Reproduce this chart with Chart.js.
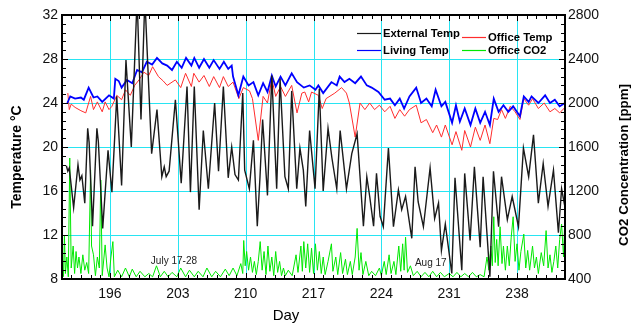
<!DOCTYPE html>
<html>
<head>
<meta charset="utf-8">
<script src="https://cdn.jsdelivr.net/npm/chart.js@4.4.1/dist/chart.umd.min.js"></script>
<style>
  html, body { margin: 0; padding: 0; background: #fff; }
  #wrap { width: 631px; height: 323px; }
</style>
</head>
<body>
<div id="wrap"><canvas id="myChart" width="631" height="323"></canvas></div>
<script>
// tick labels
var dayTicks = [196, 203, 210, 217, 224, 231, 238];
var tempTicks = [8, 12, 16, 20, 24, 28, 32];
var co2Ticks = [400, 800, 1200, 1600, 2000, 2400, 2800];

// series, [day of year, value]
var externalTemp = [[191.5,18.3],[191.65,17.8],[191.8,18.1],[192.25,14.5],[192.7,18.4],[192.9,17.0],[193.1,17.4],[193.4,14.9],[193.7,21.7],[193.85,20.4],[194.2,12.8],[194.65,21.7],[194.8,20.5],[195.25,12.6],[195.8,19.7],[196.2,15.9],[196.7,24.6],[197.2,16.5],[197.65,27.9],[198.2,20.0],[198.8,33.5],[199.2,22.5],[199.6,33.5],[200.3,19.4],[200.85,23.4],[201.35,17.3],[201.6,18.2],[201.8,17.3],[202.1,17.8],[202.75,24.3],[203.35,16.7],[203.95,25.5],[204.3,15.9],[204.7,25.5],[205.2,14.3],[205.63,21.5],[206.15,16.2],[206.8,24.0],[207.2,17.8],[207.7,25.5],[208.2,17.2],[208.56,20.0],[208.9,17.5],[209.25,17.0],[209.7,24.9],[209.9,17.9],[210.38,16.2],[210.8,20.6],[211.2,12.8],[211.48,17.3],[211.75,22.5],[212.25,15.6],[212.7,26.5],[213.2,16.2],[213.55,26.2],[214.05,17.3],[214.4,16.2],[214.75,25.1],[215.27,16.2],[215.6,19.9],[215.95,17.9],[216.2,14.6],[216.6,21.5],[217.16,16.2],[217.6,25.3],[218.0,16.0],[218.5,21.7],[218.9,19.0],[219.4,16.2],[219.75,21.5],[220.4,16.2],[220.95,19.4],[221.5,21.2],[222.15,12.8],[222.5,17.3],[222.8,15.5],[223.2,12.8],[223.5,17.6],[223.87,13.7],[224.2,12.75],[224.73,19.9],[225.25,12.75],[225.76,16.1],[226.1,14.3],[226.5,15.5],[227.14,11.7],[227.48,18.2],[227.8,15.0],[228.34,12.75],[229.03,18.1],[229.5,13.5],[229.9,14.9],[230.2,10.6],[230.6,13.0],[231.27,8.5],[231.6,17.2],[232.3,8.8],[232.6,17.6],[233.16,11.5],[233.6,18.2],[234.2,10.9],[234.5,17.3],[235.2,8.2],[235.57,17.8],[236.1,12.75],[236.4,17.3],[237.0,13.4],[237.5,15.5],[238.15,12.75],[238.66,19.9],[239.2,17.3],[239.7,21.1],[240.2,14.9],[240.7,18.5],[241.2,14.6],[241.76,17.9],[242.27,12.2],[242.6,16.2],[242.95,14.5]];

var livingTemp = [[191.6,24.0],[191.9,24.6],[192.4,24.4],[193.0,24.5],[193.3,24.3],[193.8,25.4],[194.3,24.5],[194.7,24.6],[195.2,24.1],[195.9,24.7],[196.4,24.4],[196.55,26.2],[196.9,26.0],[197.2,25.4],[197.75,26.1],[198.3,25.8],[198.8,27.0],[199.3,26.8],[199.8,27.75],[200.35,27.5],[200.85,28.1],[201.4,27.6],[201.9,27.4],[202.4,27.0],[202.9,27.75],[203.4,27.2],[203.85,28.1],[204.4,27.4],[204.7,28.1],[205.2,27.2],[205.7,28.0],[206.25,27.2],[206.7,27.9],[207.3,27.1],[207.75,27.75],[208.2,27.1],[208.56,27.4],[208.7,26.4],[209.25,24.7],[209.76,26.4],[210.3,25.6],[210.8,25.9],[211.3,24.7],[211.8,25.8],[212.25,25.0],[212.7,26.5],[213.1,25.5],[213.6,26.4],[214.1,25.6],[214.75,26.7],[215.3,25.9],[216.0,25.4],[216.6,25.6],[217.2,25.2],[217.5,25.6],[218.0,24.9],[218.85,25.9],[219.4,25.6],[219.7,26.4],[220.2,25.9],[220.7,26.2],[221.3,25.8],[221.9,26.4],[222.5,25.6],[223.0,25.4],[223.7,25.0],[224.35,24.3],[224.9,24.4],[225.4,23.8],[225.9,24.4],[226.35,23.5],[226.9,24.6],[227.6,25.4],[228.1,24.0],[228.65,24.4],[229.2,23.7],[229.6,25.2],[230.2,23.7],[230.6,24.1],[231.3,22.2],[231.7,23.8],[232.1,22.3],[232.6,23.5],[233.2,22.0],[233.7,23.5],[234.2,22.2],[234.7,23.2],[235.2,22.0],[235.6,24.4],[236.1,23.2],[236.6,23.8],[237.1,23.2],[237.6,23.7],[238.3,22.8],[238.7,24.6],[239.2,24.1],[239.5,24.6],[240.2,24.0],[240.9,24.7],[241.4,24.0],[241.9,24.3],[242.4,23.7],[242.95,24.0]];

var officeTemp = [[191.65,24.9],[191.8,23.4],[192.0,23.9],[192.4,23.6],[193.0,23.3],[193.5,23.1],[194.0,24.6],[194.3,23.4],[194.7,24.1],[195.2,23.2],[195.5,24.1],[195.9,23.4],[196.2,23.7],[196.7,24.7],[197.2,24.3],[197.6,25.2],[198.1,24.7],[198.55,25.6],[199.0,26.1],[199.5,26.8],[200.0,26.5],[200.4,27.3],[201.0,26.4],[201.5,26.0],[201.9,25.6],[202.75,26.1],[203.3,25.4],[203.8,26.7],[204.4,25.5],[204.65,26.7],[205.2,25.9],[205.7,26.5],[206.25,25.5],[206.7,26.4],[207.3,25.4],[207.7,26.4],[208.2,25.5],[208.7,25.9],[209.3,24.4],[209.76,25.4],[210.4,25.1],[210.7,24.4],[211.3,20.6],[211.8,24.6],[212.25,24.0],[212.7,26.2],[213.1,24.6],[213.6,25.5],[214.1,24.6],[214.75,25.6],[215.3,23.1],[215.8,24.9],[216.1,25.0],[216.5,24.1],[216.8,25.0],[217.5,24.7],[217.9,23.5],[218.3,24.4],[219.2,24.9],[219.9,25.4],[220.4,24.9],[220.7,24.0],[221.3,20.9],[221.8,24.0],[222.3,23.4],[222.8,24.0],[223.3,23.4],[223.8,23.8],[224.35,23.2],[224.9,23.7],[225.4,22.6],[225.9,23.4],[226.4,22.8],[226.9,23.4],[227.6,23.8],[228.1,22.2],[228.65,22.5],[229.3,21.3],[229.7,22.0],[230.2,20.9],[230.6,22.0],[231.3,20.2],[231.7,21.4],[232.3,19.7],[232.6,21.5],[233.2,20.0],[233.7,21.8],[234.2,20.6],[234.7,22.0],[235.2,20.3],[235.6,22.6],[236.0,22.5],[236.4,23.4],[236.8,22.6],[237.3,23.7],[237.8,23.2],[238.3,22.5],[238.7,24.4],[239.2,23.8],[239.6,24.4],[240.2,23.5],[240.8,24.0],[241.4,23.2],[241.9,23.5],[242.4,23.1],[242.95,23.6]];

var officeCO2 = [[191.2,420],[191.3,800],[191.4,450],[191.55,600],[191.7,420],[191.85,1500],[192.0,500],[192.2,700],[192.35,450],[192.5,650],[192.65,500],[192.8,600],[193.0,450],[193.2,620],[193.4,480],[193.6,550],[193.8,450],[194.0,1390],[194.1,700],[194.3,620],[194.5,430],[194.7,600],[194.9,500],[195.05,1300],[195.2,430],[195.5,710],[195.7,500],[195.9,420],[196.1,600],[196.3,740],[196.45,420],[196.8,480],[197.2,420],[197.6,500],[198.0,420],[198.3,490],[198.7,420],[199.1,470],[199.6,420],[200.0,450],[200.4,420],[200.8,520],[201.2,420],[201.6,470],[202.0,420],[202.4,460],[202.9,420],[203.3,500],[203.8,420],[204.2,480],[204.7,420],[205.1,470],[205.6,420],[206.0,500],[206.5,420],[206.9,470],[207.4,420],[207.9,490],[208.3,430],[208.7,500],[209.1,430],[209.5,540],[209.7,450],[209.8,750],[209.95,520],[210.1,650],[210.3,480],[210.5,600],[210.7,460],[210.9,560],[211.1,440],[211.3,560],[211.5,740],[211.7,480],[211.9,650],[212.1,440],[212.3,700],[212.5,470],[212.7,600],[212.9,430],[213.1,650],[213.3,460],[213.5,560],[213.7,430],[213.9,500],[214.1,430],[214.4,480],[214.8,430],[215.2,620],[215.4,460],[215.7,700],[215.85,470],[216.0,740],[216.2,500],[216.4,720],[216.6,460],[216.8,680],[217.0,450],[217.2,720],[217.4,480],[217.6,650],[217.8,450],[218.0,600],[218.2,440],[218.5,560],[218.85,720],[219.0,470],[219.3,600],[219.5,440],[219.8,640],[220.0,450],[220.3,580],[220.5,440],[220.8,560],[221.0,440],[221.3,600],[221.5,860],[221.7,480],[221.9,640],[222.1,440],[222.4,560],[222.7,430],[223.0,470],[223.4,430],[223.8,500],[224.0,430],[224.3,560],[224.5,440],[224.8,620],[225.0,450],[225.3,560],[225.5,440],[225.8,700],[226.0,470],[226.2,720],[226.35,480],[226.5,780],[226.7,460],[227.0,520],[227.3,430],[227.7,470],[228.1,420],[228.5,460],[228.9,420],[229.3,470],[229.7,420],[230.1,460],[230.5,420],[231.0,450],[231.4,420],[231.8,460],[232.2,420],[232.6,450],[233.0,420],[233.4,460],[233.8,420],[234.2,440],[234.6,420],[234.9,600],[235.1,480],[235.3,700],[235.45,520],[235.6,966],[235.75,550],[235.9,760],[236.05,520],[236.25,875],[236.45,540],[236.6,700],[236.8,480],[237.0,700],[237.2,520],[237.4,780],[237.6,966],[237.8,560],[238.0,720],[238.2,480],[238.4,650],[238.7,808],[238.9,500],[239.1,660],[239.3,480],[239.6,700],[239.8,500],[240.0,600],[240.2,450],[240.5,640],[240.75,520],[241.0,840],[241.2,500],[241.4,620],[241.6,460],[241.8,560],[242.0,700],[242.2,500],[242.4,760],[242.6,900],[242.8,600],[242.95,1000]];

// text notes placed in data coordinates (day, temperature)
var notes = [
  { text: 'July 17-28', day: 202.6, temp: 9.65 },
  { text: 'Aug 17', day: 229.1, temp: 9.45 }
];

var fontFam = '"Liberation Sans", Arial, sans-serif';
var gridCyan = '#28e4f2';
Chart.defaults.font.family = fontFam;

function toXY(arr) {
  return arr.map(function (p) { return { x: p[0], y: p[1] }; });
}

// cyan grid under the lines
var cyanGrid = {
  id: 'cyanGrid',
  beforeDatasetsDraw: function (chart) {
    var ctx = chart.ctx, a = chart.chartArea;
    var xs = chart.scales.x, ys = chart.scales.y;
    ctx.save();
    ctx.strokeStyle = gridCyan;
    ctx.lineWidth = 1;
    ctx.beginPath();
    dayTicks.forEach(function (d) {
      var px = Math.round(xs.getPixelForValue(d)) + 0.5;
      ctx.moveTo(px, a.top); ctx.lineTo(px, a.bottom);
    });
    tempTicks.forEach(function (t) {
      var py = Math.round(ys.getPixelForValue(t)) + 0.5;
      ctx.moveTo(a.left, py); ctx.lineTo(a.right, py);
    });
    ctx.stroke();
    ctx.restore();
  }
};

// frame, inner ticks, titles, legend and notes
var extras = {
  id: 'extras',
  afterDraw: function (chart) {
    var ctx = chart.ctx, a = chart.chartArea;
    var xs = chart.scales.x, ys = chart.scales.y;
    ctx.save();

    // inward ticks on all four sides
    ctx.strokeStyle = '#000';
    ctx.lineWidth = 1;
    ctx.beginPath();
    for (var d = Math.ceil(xs.min); d <= xs.max; d++) {
      var px = Math.round(xs.getPixelForValue(d)) + 0.5;
      var lx = dayTicks.indexOf(d) >= 0 ? 6 : 4;
      ctx.moveTo(px, a.bottom); ctx.lineTo(px, a.bottom - lx);
      ctx.moveTo(px, a.top); ctx.lineTo(px, a.top + lx);
    }
    for (var i = 0; i <= 30; i++) {
      var py = Math.round(ys.getPixelForValue(8 + i * 0.8)) + 0.5;
      var ly = (i % 5 === 0) ? 6 : 4;
      ctx.moveTo(a.left, py); ctx.lineTo(a.left + ly, py);
      ctx.moveTo(a.right, py); ctx.lineTo(a.right - ly, py);
    }
    ctx.stroke();

    // frame
    ctx.lineWidth = 2;
    ctx.strokeRect(a.left, a.top, a.right - a.left, a.bottom - a.top);

    // axis titles
    ctx.fillStyle = '#000';
    ctx.textAlign = 'center';
    ctx.textBaseline = 'middle';
    ctx.font = 'bold 14px ' + fontFam;
    ctx.save();
    ctx.translate(17, 157);
    ctx.rotate(-Math.PI / 2);
    ctx.fillText('Temperature \u00B0C', 0, 0);
    ctx.restore();
    ctx.save();
    ctx.font = 'bold 13.3px ' + fontFam;
    ctx.translate(624, 165);
    ctx.rotate(-Math.PI / 2);
    ctx.fillText('CO2 Concentration [ppm]', 0, 0);
    ctx.restore();
    ctx.font = '15px ' + fontFam;
    ctx.fillText('Day', 286, 316);

    // notes
    ctx.font = '10px ' + fontFam;
    ctx.fillStyle = '#222';
    notes.forEach(function (n) {
      ctx.fillText(n.text, xs.getPixelForValue(n.day), ys.getPixelForValue(n.temp));
    });

    // legend, two columns
    var spots = [[357, 33], [357, 50], [462, 37], [462, 50]];
    var ds = chart.data.datasets;
    ctx.font = 'bold 11.3px ' + fontFam;
    ctx.textAlign = 'left';
    ds.forEach(function (s, k) {
      var sx = spots[k][0], sy = spots[k][1];
      ctx.strokeStyle = s.borderColor;
      ctx.lineWidth = 1.2;
      ctx.beginPath();
      ctx.moveTo(sx, sy + 0.5); ctx.lineTo(sx + 24, sy + 0.5);
      ctx.stroke();
      ctx.fillStyle = '#000';
      ctx.fillText(s.label, sx + 26, sy + 1);
    });
    ctx.restore();
  }
};

var ctx = document.getElementById('myChart').getContext('2d');
var myChart = new Chart(ctx, {
  type: 'line',
  data: {
    datasets: [
      { label: 'External Temp', data: toXY(externalTemp), borderColor: '#1a1a1a', borderWidth: 1.4, yAxisID: 'y' },
      { label: 'Living Temp', data: toXY(livingTemp), borderColor: '#0000ff', borderWidth: 1.8, yAxisID: 'y' },
      { label: 'Office Temp', data: toXY(officeTemp), borderColor: '#ff2d2d', borderWidth: 1, yAxisID: 'y' },
      { label: 'Office CO2', data: toXY(officeCO2), borderColor: '#00e800', borderWidth: 1, yAxisID: 'y2' }
    ]
  },
  options: {
    responsive: false,
    animation: false,
    elements: {
      point: { radius: 0 },
      line: { tension: 0, fill: false }
    },
    layout: { padding: { top: 15, left: 0, right: 0, bottom: 0 } },
    plugins: {
      legend: { display: false },
      tooltip: { enabled: false }
    },
    scales: {
      x: {
        type: 'linear',
        min: 191.05,
        max: 242.95,
        afterBuildTicks: function (s) { s.ticks = dayTicks.map(function (v) { return { value: v }; }); },
        afterFit: function (s) { s.height = 44; },
        grid: { display: false, drawTicks: false },
        border: { display: false },
        ticks: { padding: 7, color: '#111', font: { size: 14 }, maxRotation: 0, autoSkip: false }
      },
      y: {
        position: 'left',
        min: 8,
        max: 32,
        afterBuildTicks: function (s) { s.ticks = tempTicks.map(function (v) { return { value: v }; }); },
        afterFit: function (s) { s.width = 62; },
        grid: { display: false, drawTicks: false },
        border: { display: false },
        ticks: { padding: 4, color: '#111', font: { size: 14 } }
      },
      y2: {
        position: 'right',
        min: 400,
        max: 2800,
        afterBuildTicks: function (s) { s.ticks = co2Ticks.map(function (v) { return { value: v }; }); },
        afterFit: function (s) { s.width = 66; },
        grid: { display: false, drawTicks: false },
        border: { display: false },
        ticks: { padding: 3, color: '#111', font: { size: 14 }, callback: function (v) { return String(v); } }
      }
    }
  },
  plugins: [cyanGrid, extras]
});
</script>
</body>
</html>
